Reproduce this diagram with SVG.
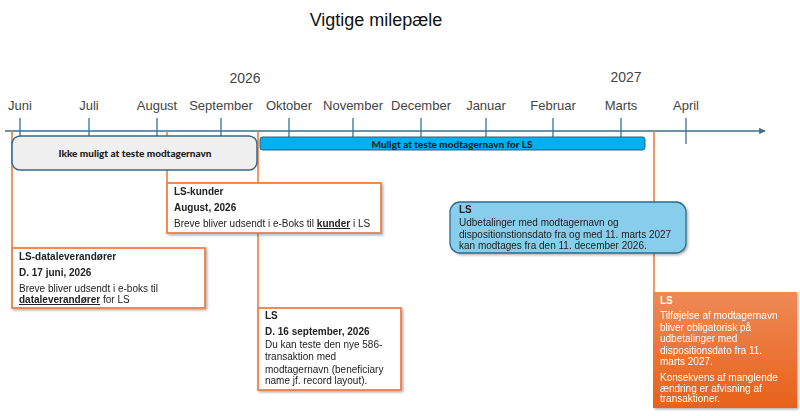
<svg xmlns="http://www.w3.org/2000/svg" width="800" height="416" viewBox="0 0 800 416">
<style>
.title{font-family:"Liberation Sans",Arial,sans-serif;font-size:18px;fill:#111}
.year{font-family:"Liberation Sans",Arial,sans-serif;font-size:14px;fill:#444;text-anchor:middle}
.month{font-family:"Liberation Sans",Arial,sans-serif;font-size:13px;fill:#444;text-anchor:middle}
.axis{stroke:#3B6F8F;stroke-width:1.3;fill:none}
.tick{stroke:#3B6F8F;stroke-width:1.3}
.vline{stroke:#F07B3F;stroke-width:1.6}
.bar{font-family:Lato,"Liberation Sans",sans-serif;font-size:10px;font-weight:900;fill:#222;text-anchor:middle}
.card{fill:#fff;stroke:#EE7F45;stroke-width:1.8}
.t{font-family:"Liberation Sans",Arial,sans-serif;font-size:10px;fill:#222}
.b{font-weight:bold}
.w{fill:#fff}
</style>
<defs>
<filter id="sh" x="-10%" y="-10%" width="130%" height="130%">
<feDropShadow dx="1.5" dy="1.5" stdDeviation="1.2" flood-color="#000" flood-opacity="0.3"/>
</filter>
<linearGradient id="og" x1="0" y1="0" x2="0" y2="1">
<stop offset="0" stop-color="#EE8A57"/>
<stop offset="1" stop-color="#E8611A"/>
</linearGradient>
<marker id="arr" viewBox="0 0 10 10" refX="9" refY="5" markerWidth="5" markerHeight="5" orient="auto">
<path d="M0,0 L10,5 L0,10 z" fill="#3B6F8F"/>
</marker>
</defs>

<text class="title" x="376" y="26" text-anchor="middle">Vigtige milepæle</text>

<g id="axis">
<text class="year" x="245" y="83">2026</text>
<text class="year" x="626" y="82">2027</text>
<line class="axis" x1="5" y1="131" x2="765" y2="131" marker-end="url(#arr)"/>
<g class="tick">
<line x1="20" y1="118" x2="20" y2="138"/>
<line x1="89" y1="118" x2="89" y2="138"/>
<line x1="157" y1="118" x2="157" y2="138"/>
<line x1="221" y1="118" x2="221" y2="138"/>
<line x1="289" y1="118" x2="289" y2="138"/>
<line x1="353" y1="118" x2="353" y2="138"/>
<line x1="421" y1="118" x2="421" y2="138"/>
<line x1="486" y1="118" x2="486" y2="138"/>
<line x1="553" y1="118" x2="553" y2="138"/>
<line x1="621" y1="118" x2="621" y2="138"/>
<line x1="686" y1="118" x2="686" y2="144"/>
</g>
<text class="month" x="20" y="110">Juni</text>
<text class="month" x="89" y="110">Juli</text>
<text class="month" x="157" y="110">August</text>
<text class="month" x="221" y="110">September</text>
<text class="month" x="289" y="110">Oktober</text>
<text class="month" x="353" y="110">November</text>
<text class="month" x="421" y="110">December</text>
<text class="month" x="486" y="110">Januar</text>
<text class="month" x="553" y="110">Februar</text>
<text class="month" x="621" y="110">Marts</text>
<text class="month" x="686" y="110">April</text>
</g>

<g id="connectors">
<line class="vline" x1="12" y1="131" x2="12" y2="248"/>
<line class="vline" x1="167" y1="131" x2="167" y2="183"/>
<line class="vline" x1="258" y1="131" x2="258" y2="308"/>
<line class="vline" x1="654" y1="131" x2="654" y2="292"/>
</g>

<g id="ikke-muligt">
<rect x="12" y="136" width="245" height="34" rx="8" fill="#EFEFEF" stroke="#2F6A8C" stroke-width="1.5"/>
<text class="bar" x="135" y="157">Ikke muligt at teste modtagernavn</text>
</g>

<g id="muligt">
<rect x="260" y="137" width="385" height="13" rx="2.5" fill="#00B0F0" stroke="#2F5F7C" stroke-width="1"/>
<text class="bar" x="452" y="147.5">Muligt at teste modtagernavn for LS</text>
</g>

<g id="ls-kunder" filter="url(#sh)">
<rect class="card" x="167" y="183" width="214" height="50"/>
<text class="t b" x="174" y="195">LS-kunder</text>
<text class="t b" x="174" y="211">August, 2026</text>
<text class="t" x="174" y="227">Breve bliver udsendt i e-Boks til <tspan class="b" text-decoration="underline">kunder</tspan> i LS</text>
</g>

<g id="ls-dataleverandoerer" filter="url(#sh)">
<rect class="card" x="12" y="248" width="193" height="60"/>
<text class="t b" x="19" y="260">LS-dataleverandører</text>
<text class="t b" x="19" y="276">D. 17 juni, 2026</text>
<text class="t" x="19" y="292">Breve bliver udsendt i e-boks til</text>
<text class="t" x="19" y="303"><tspan class="b" text-decoration="underline">dataleverandører</tspan> for LS</text>
</g>

<g id="ls-september" filter="url(#sh)">
<rect class="card" x="258" y="308" width="143" height="82"/>
<text class="t b" x="265" y="319">LS</text>
<text class="t b" x="265" y="335">D. 16 september, 2026</text>
<text class="t" x="265" y="347.5">Du kan teste den nye 586-</text>
<text class="t" x="265" y="359.5">transaktion med</text>
<text class="t" x="265" y="372.5">modtagernavn (beneficiary</text>
<text class="t" x="265" y="384">name jf. record layout).</text>
</g>

<g id="ls-december" filter="url(#sh)">
<rect x="450" y="202" width="236" height="51" rx="10" fill="#86CEEB" stroke="#2F6A8C" stroke-width="1.3"/>
<text class="t b" x="459" y="213">LS</text>
<text class="t" x="459" y="226">Udbetalinger med modtagernavn og</text>
<text class="t" x="459" y="237.5">dispositionstionsdato fra og med 11. marts 2027</text>
<text class="t" x="459" y="248.5">kan modtages fra den 11. december 2026.</text>
</g>

<g id="ls-marts" filter="url(#sh)">
<rect x="653" y="292" width="144" height="116" fill="url(#og)"/>
<text class="t b w" x="660" y="304">LS</text>
<text class="t w" x="660" y="319">Tilføjelse af modtagernavn</text>
<text class="t w" x="660" y="330.5">bliver obligatorisk på</text>
<text class="t w" x="660" y="342">udbetalinger med</text>
<text class="t w" x="660" y="353.5">dispositionsdato fra 11.</text>
<text class="t w" x="660" y="365">marts 2027.</text>
<text class="t w" x="660" y="381">Konsekvens af manglende</text>
<text class="t w" x="660" y="392">ændring er afvisning af</text>
<text class="t w" x="660" y="402">transaktioner.</text>
</g>
</svg>
